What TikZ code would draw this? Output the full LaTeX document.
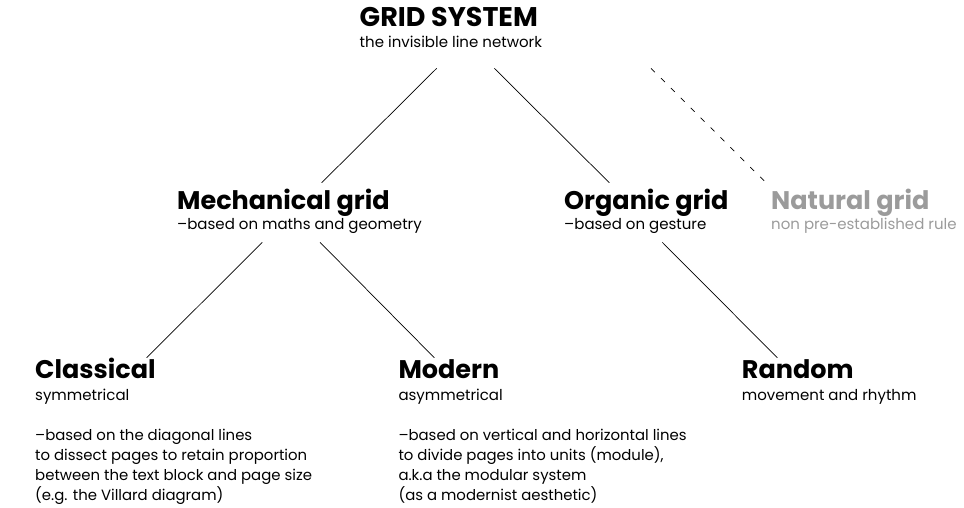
\documentclass[tikz,border=0pt]{standalone}
\usepackage{fontspec}
\setmainfont{Poppins}
\definecolor{faded}{HTML}{9B9B9B}
\tikzset{
  head/.style={anchor=base west, inner sep=0pt, font=\bfseries\fontsize{25.5}{28}\selectfont},
  sub/.style={anchor=base west, inner sep=0pt, font=\fontsize{15}{18}\selectfont},
  body/.style={anchor=base west, inner sep=0pt, align=left, font=\fontsize{14.9}{20}\selectfont},
  branch/.style={line width=0.7pt, black},
  maybe/.style={line width=0.7pt, black, dash pattern=on 5.5pt off 8.5pt}
}
\begin{document}
\begin{tikzpicture}[x=1pt, y=-1pt]
  \useasboundingbox (0,0) rectangle (964,507);

  % root
  \node[head, font=\bfseries\fontsize{27}{30}\selectfont] (gs) at (359.5,26.7) {GRID SYSTEM};
  \node[sub]  (gssub) at (359.5,47.7) {the invisible line network};

  % second level
  \node[head] (mech)    at (177,209)   {Mechanical grid};
  \node[sub]  (mechsub) at (177,229.3) {–based on maths and geometry};
  \node[head] (org)     at (564,209)   {Organic grid};
  \node[sub]  (orgsub)  at (564,229.3) {–based on gesture};
  \node[head, text=faded] (nat)    at (771,209)   {Natural grid};
  \node[sub,  text=faded] (natsub) at (771,229.3) {non pre-established rule};

  % third level (body blocks are placed by the baseline of their last line)
  \node[head] (cls)     at (35,378)    {Classical};
  \node[sub]  (clssub)  at (35,400)    {symmetrical};
  \node[body] (clsbody) at (35,500.7)  {–based on the diagonal lines\\to dissect pages to retain proportion\\between the text block and page size\\(e.g. the Villard diagram)};
  \node[head] (mod)     at (398.3,378) {Modern};
  \node[sub]  (modsub)  at (398.3,400) {asymmetrical};
  \node[body] (modbody) at (398.3,500.7) {–based on vertical and horizontal lines\\to divide pages into units (module),\\a.k.a the modular system\\(as a modernist aesthetic)};
  \node[head] (rnd)     at (741.7,378) {Random};
  \node[sub]  (rndsub)  at (741.7,400) {movement and rhythm};

  % connector ends
  \coordinate (gs-l)   at (436.7,68.3);
  \coordinate (gs-r)   at (494.3,68.3);
  \coordinate (gs-n)   at (651,68.3);
  \coordinate (mech-t) at (321.7,182.7);
  \coordinate (org-t)  at (609.3,182.7);
  \coordinate (nat-t)  at (766,182.7);
  \coordinate (mech-l) at (262.3,242.3);
  \coordinate (mech-r) at (320,242.3);
  \coordinate (org-b)  at (662.3,242.3);
  \coordinate (cls-t)  at (146.7,357.7);
  \coordinate (mod-t)  at (434.3,357.7);
  \coordinate (rnd-t)  at (777.3,357.7);

  % connectors
  \draw[branch] (gs-l) -- (mech-t);
  \draw[branch] (gs-r) -- (org-t);
  \draw[maybe]  (gs-n) -- (nat-t);
  \draw[branch] (mech-l) -- (cls-t);
  \draw[branch] (mech-r) -- (mod-t);
  \draw[branch] (org-b) -- (rnd-t);
\end{tikzpicture}
\end{document}
